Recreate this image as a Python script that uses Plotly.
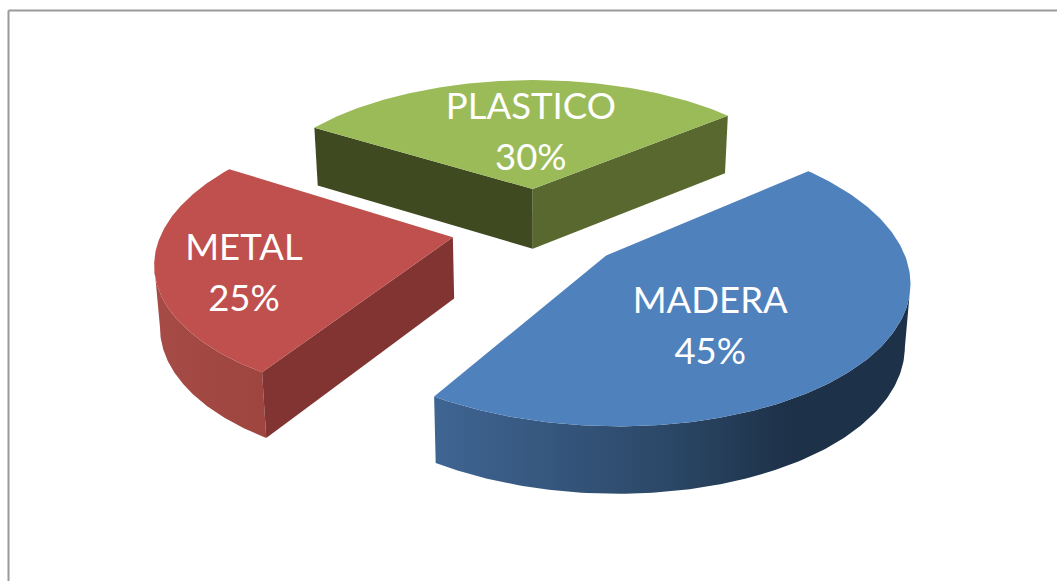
import numpy as np
import plotly.graph_objects as go

# Share of each material, clockwise from the first slice
categories = ["MADERA", "METAL", "PLASTICO"]
percentages = [45, 25, 30]

# Slice styling; None marks a surface that points away from the viewer
top_colors = ["#4f81bd", "#c0504d", "#9bbb59"]
rim_gradients = [
    [[0, "#3f6593"], [0.5, "#2b4766"], [0.75, "#1d3148"], [1, "#1d3148"]],
    [[0, "#a64b45"], [1, "#9e4540"]],
    None,
]
# Which way the rim's silhouette turns on the page: +1 right, -1 left
rim_sides = [1, -1, 0]
start_face_colors = [None, "#823432", "#404a20"]
end_face_colors = [None, None, "#58682f"]

# Pie geometry
FIRST_ANGLE = 50.0
EXPLODE = 0.30
CENTER_X, CENTER_Y = 538.5, 228.0
SCALE_X, SCALE_Y = 290.0, 136.0
PERSPECTIVE = 0.15
THICKNESS = 61.0
THICKNESS_FALLOFF = 0.7
BASE_SHRINK = 0.985

# Label placement relative to each slice tip: radius and turn from mid-angle
LABEL_RADIUS = [0.548, 0.719, 0.491]
LABEL_TURN = [14.8, -7.0, 3.0]
LABEL_SIZE = 36.5
LABEL_LINE_GAP = 51.0
LABEL_BASELINE_SHIFT = 3.5


def project(u, v, base=False):
    """Map pie-plane coordinates (v toward the viewer) to page pixels."""
    s = 1.0 / (1.0 - PERSPECTIVE * np.asarray(v))
    k = BASE_SHRINK if base else 1.0
    drop = THICKNESS * (1.0 + THICKNESS_FALLOFF * (s - 1.0)) if base else 0.0
    x = CENTER_X + SCALE_X * np.asarray(u) * s * k
    y = CENTER_Y + SCALE_Y * np.asarray(v) * s * k + drop
    return x, y


def polar(deg):
    rad = np.radians(deg)
    return np.sin(rad), -np.cos(rad)


def polygon(x, y, color=None, gradient=None):
    trace = dict(
        x=list(x), y=list(y), mode="lines", fill="toself",
        line=dict(width=0), hoverinfo="skip", showlegend=False,
    )
    if gradient is not None:
        trace["fillgradient"] = dict(type="horizontal", colorscale=gradient)
    else:
        trace["fillcolor"] = color
    return go.Scatter(**trace)


def front_part(values, silhouette, front_at_end):
    """Keep the stretch of an arc between its silhouette point and the front end."""
    return values[silhouette:] if front_at_end else values[:silhouette + 1]


spans = np.array(percentages) / sum(percentages) * 360.0
starts = FIRST_ANGLE + np.concatenate([[0.0], np.cumsum(spans)[:-1]])

fig = go.Figure()
label_x, label_y, label_name, label_pct = [], [], [], []

# Back slice first, so nearer slices paint over it
for i in [2, 1, 0]:
    a0, a1 = starts[i], starts[i] + spans[i]
    mid = (a0 + a1) / 2.0
    tip_u, tip_v = np.multiply(polar(mid), EXPLODE)

    arc_u, arc_v = polar(np.linspace(a0, a1, 181))
    arc_u, arc_v = arc_u + tip_u, arc_v + tip_v

    top_x, top_y = project(arc_u, arc_v)
    low_x, low_y = project(arc_u, arc_v, base=True)
    tip_x, tip_y = project(tip_u, tip_v)
    tip_lx, tip_ly = project(tip_u, tip_v, base=True)

    # Outer rim, from the silhouette point of each arc to the slice's front end
    if rim_sides[i]:
        j_top = int(np.argmax(rim_sides[i] * top_x))
        j_low = int(np.argmax(rim_sides[i] * low_x))
        at_end = arc_v[-1] > arc_v[0]
        upper_x = front_part(top_x, j_top, at_end)
        upper_y = front_part(top_y, j_top, at_end)
        lower_x = front_part(low_x, j_low, at_end)
        lower_y = front_part(low_y, j_low, at_end)
        fig.add_trace(polygon(
            np.r_[upper_x, lower_x[::-1]], np.r_[upper_y, lower_y[::-1]],
            gradient=rim_gradients[i],
        ))
    # Cut faces at each end of the slice, where they face the viewer
    if start_face_colors[i]:
        fig.add_trace(polygon(
            [tip_x, top_x[0], low_x[0], tip_lx], [tip_y, top_y[0], low_y[0], tip_ly],
            color=start_face_colors[i],
        ))
    if end_face_colors[i]:
        fig.add_trace(polygon(
            [tip_x, top_x[-1], low_x[-1], tip_lx], [tip_y, top_y[-1], low_y[-1], tip_ly],
            color=end_face_colors[i],
        ))
    # Top surface
    fig.add_trace(polygon(np.r_[tip_x, top_x], np.r_[tip_y, top_y], color=top_colors[i]))

    lu, lv = np.multiply(polar(mid + LABEL_TURN[i]), LABEL_RADIUS[i])
    lx, ly = project(tip_u + lu, tip_v + lv)
    label_x.append(float(lx))
    label_y.append(float(ly) + LABEL_BASELINE_SHIFT)
    label_name.append(categories[i])
    label_pct.append(f"{percentages[i]}%")

label_font = dict(family="Lato, Carlito, sans-serif", size=LABEL_SIZE, color="white")
for text, shift in ((label_name, -LABEL_LINE_GAP / 2), (label_pct, LABEL_LINE_GAP / 2)):
    fig.add_trace(go.Scatter(
        x=label_x, y=[y + shift for y in label_y], text=text, mode="text",
        textposition="middle center", textfont=label_font,
        hoverinfo="skip", showlegend=False,
    ))

fig.update_layout(
    width=1057, height=581,
    margin=dict(l=0, r=0, t=0, b=0),
    paper_bgcolor="white", plot_bgcolor="white",
    xaxis=dict(range=[0, 1057], visible=False, fixedrange=True),
    yaxis=dict(range=[581, 0], visible=False, fixedrange=True),
    shapes=[
        dict(type="line", xref="paper", yref="paper", x0=8.5 / 1057, x1=1, y0=1 - 10.5 / 581, y1=1 - 10.5 / 581,
             line=dict(color="#9a9a9a", width=2)),
        dict(type="line", xref="paper", yref="paper", x0=8.5 / 1057, x1=8.5 / 1057, y0=0, y1=1 - 10.5 / 581,
             line=dict(color="#9a9a9a", width=2)),
    ],
)

fig.write_html("out.html", config=dict(displayModeBar=False))
